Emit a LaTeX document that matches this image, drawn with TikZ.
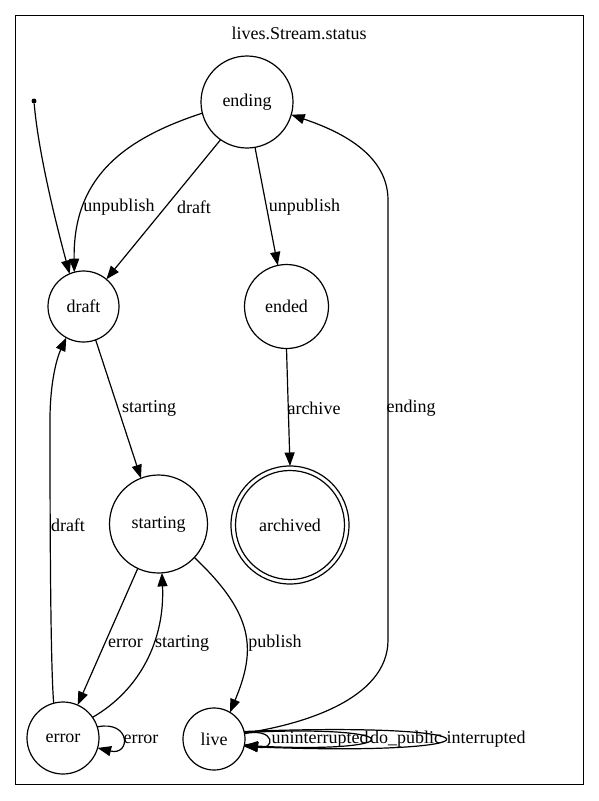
\documentclass[tikz,border=0pt]{standalone}
\usepackage{fontspec}
\setmainfont{Liberation Serif}
\usetikzlibrary{arrows.meta}
\begin{document}
\begin{tikzpicture}[x=1pt,y=-1pt,
  every node/.style={font=\fontsize{18}{20}\selectfont},
  st/.style={draw, circle, line width=1.2pt, inner sep=0pt, outer sep=0pt},
  tr/.style={draw, line width=1.2pt, -{Triangle[length=13.5pt,width=10pt]}},
  lbl/.style={inner sep=0pt}]
\useasboundingbox (0,0) rectangle (599,801);
\draw[line width=1.3pt] (15.5,15.5) rectangle (583.5,784.5);
\node[lbl] (title) at (299,33) {lives.Stream.status};
% states
\node[circle, fill, inner sep=0pt, minimum size=5pt] (init) at (34,101) {};
\node[st, minimum size=92pt] (ending) at (247,102) {ending};
\node[st, minimum size=71pt] (draft) at (83.5,306.5) {draft};
\node[st, minimum size=84pt] (ended) at (286.5,306.5) {ended};
\node[st, minimum size=98pt] (starting) at (158.5,524) {starting};
\node[st, minimum size=118pt] (archived) at (290,525) {archived};
\draw[line width=1.2pt] (archived.center) circle[radius=54.5];
\node[st, minimum size=72pt] (error) at (63,738) {error};
\node[st, minimum size=62pt] (live) at (214,739) {live};
% transitions
\draw[tr] (init) .. controls (38,150) and (55,220) .. (draft.113);
\draw[tr] (ending.194) .. controls (120,140) and (73,180) .. (draft.105);
\node[lbl] (l1) at (119,207) {unpublish};
\draw[tr] (ending.235) -- (draft.50);
\node[lbl] (l2) at (194,207) {draft};
\draw[tr] (ending.280) -- (ended.102);
\node[lbl] (l3) at (304.5,207) {unpublish};
\draw[tr] (draft.290) -- (starting.111);
\node[lbl] (l4) at (149,408) {starting};
\draw[tr] (ended.270) -- (archived.90);
\node[lbl] (l5) at (314,408) {archive};
\draw[tr] (live.11) .. controls (300,725) and (388,700) .. (388,640) -- (388,200) .. controls (388,150) and (330,128) .. (ending.344);
\node[lbl] (l6) at (411,408) {ending};
\draw[tr] (error.105) .. controls (50,660) and (50,480) .. (50,420) .. controls (50,385) and (56,360) .. (draft.241);
\node[lbl] (l7) at (68,525) {draft};
\draw[tr] (starting.245) -- (error.66);
\node[lbl] (l8) at (125.5,643) {error};
\draw[tr] (error.35) .. controls (140,690) and (165,640) .. (starting.274);
\node[lbl] (l9) at (182,643) {starting};
\draw[tr] (starting.317) .. controls (255,615) and (256,650) .. (live.59);
\node[lbl] (l10) at (275,643) {publish};
\draw[tr] (error.18) .. controls (131,720) and (131,756) .. (error.-16);
\node[lbl] (l11) at (141,739) {error};
\draw[tr] (live.10) .. controls (276,727) and (276,751) .. (live.-10);
\node[lbl] (l12) at (320,739) {uninterrupted};
\draw[tr] (live.12) .. controls (412,724) and (412,754) .. (live.-12);
\node[lbl] (l13) at (406,739) {do\textunderscore public};
\draw[tr] (live.14) .. controls (512,721) and (512,757) .. (live.-14);
\node[lbl] (l14) at (486,739) {interrupted};
\end{tikzpicture}
\end{document}
